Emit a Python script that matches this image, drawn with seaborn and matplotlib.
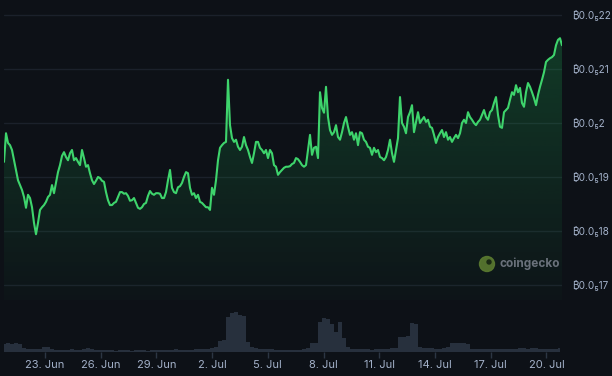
import numpy as np
import pandas as pd
import matplotlib
matplotlib.use("Agg")
import matplotlib.pyplot as plt
import matplotlib.dates as mdates
import seaborn as sns
from matplotlib.patches import Ellipse
from matplotlib.ticker import FixedLocator, FuncFormatter
from matplotlib.colors import to_rgb

# price in units of 1e-7 BTC, one point every ~2.6 hours
price_e7 = [
    1.928, 1.981, 1.963, 1.959, 1.950, 1.931, 1.913, 1.894, 1.885, 1.876,
    1.863, 1.843, 1.867, 1.861, 1.844, 1.815, 1.794, 1.815, 1.839, 1.844,
    1.848, 1.854, 1.863, 1.867, 1.885, 1.870, 1.889, 1.909, 1.922, 1.939,
    1.946, 1.937, 1.931, 1.944, 1.950, 1.931, 1.935, 1.928, 1.922, 1.950,
    1.935, 1.919, 1.922, 1.907, 1.894, 1.887, 1.893, 1.900, 1.898, 1.893,
    1.891, 1.872, 1.857, 1.848, 1.848, 1.852, 1.854, 1.863, 1.872, 1.872,
    1.869, 1.870, 1.865, 1.856, 1.857, 1.861, 1.852, 1.843, 1.841, 1.844,
    1.850, 1.852, 1.865, 1.874, 1.869, 1.867, 1.870, 1.870, 1.869, 1.861,
    1.861, 1.872, 1.894, 1.913, 1.880, 1.872, 1.870, 1.881, 1.883, 1.889,
    1.900, 1.909, 1.907, 1.880, 1.867, 1.870, 1.861, 1.867, 1.854, 1.852,
    1.848, 1.844, 1.844, 1.839, 1.880, 1.867, 1.894, 1.931, 1.954, 1.959,
    1.963, 1.965, 2.080, 1.996, 1.972, 1.965, 1.969, 1.956, 1.950, 1.956,
    1.974, 1.959, 1.950, 1.937, 1.926, 1.944, 1.965, 1.965, 1.954, 1.950,
    1.944, 1.950, 1.935, 1.950, 1.944, 1.922, 1.919, 1.904, 1.909, 1.913,
    1.917, 1.919, 1.919, 1.920, 1.924, 1.926, 1.935, 1.933, 1.928, 1.922,
    1.919, 1.922, 1.950, 1.978, 1.941, 1.954, 1.956, 1.935, 2.057, 2.028,
    2.019, 2.067, 2.011, 1.987, 1.978, 1.983, 1.996, 1.974, 1.969, 1.983,
    2.000, 2.011, 1.993, 1.978, 1.983, 1.969, 1.981, 1.959, 1.983, 1.981,
    1.969, 1.965, 1.956, 1.954, 1.941, 1.954, 1.946, 1.950, 1.937, 1.935,
    1.931, 1.937, 1.950, 1.969, 1.944, 1.928, 1.950, 1.972, 2.048, 2.000,
    1.993, 1.981, 2.011, 2.020, 2.033, 1.983, 2.002, 2.020, 2.000, 2.006,
    2.011, 2.002, 2.006, 1.993, 1.991, 1.978, 1.963, 1.974, 1.981, 1.987,
    1.974, 1.983, 1.969, 1.974, 1.965, 1.972, 1.978, 1.972, 1.981, 2.000,
    2.006, 2.000, 2.020, 2.011, 2.006, 2.000, 1.996, 2.002, 2.006, 2.015,
    2.024, 2.011, 2.006, 2.020, 2.024, 2.037, 2.048, 2.015, 1.993, 1.991,
    2.020, 2.024, 2.028, 2.043, 2.057, 2.052, 2.070, 2.057, 2.065, 2.037,
    2.030, 2.057, 2.074, 2.067, 2.057, 2.046, 2.033, 2.052, 2.067, 2.080,
    2.094, 2.113, 2.117, 2.120, 2.122, 2.126, 2.144, 2.154, 2.157, 2.144,
]

# traded volume (arbitrary units), one value every second price point
volume = [
    0.8, 0.9, 0.8, 0.9, 0.8, 0.4, 0.3, 0.3, 0.3, 0.3,
    0.5, 0.5, 0.3, 0.2, 0.2, 0.2, 0.2, 0.3, 0.2, 0.2,
    0.3, 0.4, 0.3, 0.2, 0.2, 0.2, 0.2, 0.2, 0.1, 0.2,
    0.2, 0.2, 0.1, 0.2, 0.2, 0.2, 0.1, 0.2, 0.2, 0.2,
    0.2, 0.2, 0.2, 0.3, 0.2, 0.2, 0.2, 0.2, 0.3, 0.3,
    0.3, 0.3, 0.4, 0.5, 1.1, 1.2, 3.5, 3.9, 4.0, 3.7,
    3.6, 1.0, 0.5, 0.4, 0.3, 0.3, 0.3, 0.3, 0.2, 0.2,
    0.2, 0.2, 0.2, 0.2, 0.2, 0.3, 0.4, 0.9, 0.9, 3.0,
    3.4, 3.3, 2.8, 2.0, 3.0, 1.4, 0.5, 0.3, 0.3, 0.3,
    0.3, 0.3, 0.2, 0.3, 0.3, 0.3, 0.3, 0.4, 0.4, 1.5,
    1.5, 1.6, 2.9, 2.8, 0.5, 0.4, 0.4, 0.4, 0.3, 0.3,
    0.4, 0.5, 0.9, 0.9, 0.9, 0.9, 0.8, 0.3, 0.3, 0.3,
    0.3, 0.3, 0.3, 0.3, 0.3, 0.3, 0.3, 0.3, 0.3, 0.4,
    0.4, 0.3, 0.4, 0.4, 0.3, 0.3, 0.3, 0.3, 0.3, 0.4,
]

start_time = "2024-06-20 19:00"
end_time = "2024-07-20 20:10"
y_ticks = [1.7, 1.8, 1.9, 2.0, 2.1, 2.2]
x_tick_dates = pd.date_range("2024-06-23", "2024-07-20", freq="3D")

times = pd.date_range(start_time, end_time, periods=len(price_e7))
vol_times = times[::2]
df = pd.DataFrame({"time": times, "price": price_e7})

# colours
bg = "#0d1117"
line_color = "#3ed46c"
grid_color = "#1b212b"
label_color = "#a3b1c9"
vol_color = "#27303d"

sns.set_theme(style="dark", rc={"axes.facecolor": bg, "figure.facecolor": bg})
plt.rcParams["font.family"] = ["Inter", "Noto Sans", "DejaVu Sans"]

fig = plt.figure(figsize=(6.12, 3.76), dpi=100, facecolor=bg)
ax = fig.add_axes([4 / 612, 1 - 300 / 376, 558 / 612, 295 / 376])
axv = fig.add_axes([4 / 612, 1 - 352 / 376, 558 / 612, 52 / 376], sharex=ax)

y_lo, y_hi = 1.6722, 2.2185

# price line
sns.lineplot(data=df, x="time", y="price", ax=ax, color=line_color, linewidth=1.5, zorder=3)

# gradient fill under the line
poly = ax.fill_between(times, price_e7, y_lo, facecolor="none", edgecolor="none")
path = poly.get_paths()[0]
n = 256
grad = np.zeros((n, 1, 4))
grad[:, 0, :3] = to_rgb("#22c55e")
grad[:, 0, 3] = np.linspace(0.26, 0.02, n)
x0, x1 = mdates.date2num(times[0]), mdates.date2num(times[-1])
img = ax.imshow(grad, extent=[x0, x1, y_lo, y_hi], aspect="auto", origin="upper", zorder=2)
img.set_clip_path(path, transform=ax.transData)

ax.set_xlim(times[0], times[-1])
ax.set_ylim(y_lo, y_hi)
ax.set_xlabel("")
ax.set_ylabel("")
ax.yaxis.tick_right()
ax.yaxis.set_major_locator(FixedLocator(y_ticks))
ax.yaxis.set_major_formatter(FuncFormatter(
    lambda v, pos: "\u20bf0.0\u2085" + f"{v:.1f}".replace(".", "").rstrip("0")))
ax.tick_params(axis="y", length=0, pad=7, labelsize=7.2, labelcolor=label_color)
ax.tick_params(axis="x", bottom=False, labelbottom=False)
ax.grid(True, axis="y", color=grid_color, linewidth=1)
ax.grid(False, axis="x")
for s in ax.spines.values():
    s.set_visible(False)

# volume
axv.fill_between(vol_times, volume, 0, step="mid", color=vol_color, linewidth=0)
axv.set_ylim(0, 5.2)
axv.set_facecolor(bg)
axv.set_yticks([])
axv.grid(False)
axv.xaxis.set_major_locator(FixedLocator(mdates.date2num(x_tick_dates)))
axv.set_xticklabels([f"{d.day}. {d:%b}" for d in x_tick_dates])
axv.tick_params(axis="x", bottom=True, length=4, width=1, color="#2c3644",
                pad=2, labelsize=8, labelcolor=label_color, direction="out")
for s in axv.spines.values():
    s.set_visible(False)

# watermark
fig.add_artist(Ellipse((487 / 612, 1 - 264 / 376), 15 / 612, 15 / 376,
                       transform=fig.transFigure, color="#5a7a30", alpha=0.9))
fig.add_artist(Ellipse((489 / 612, 1 - 262 / 376), 4 / 612, 4 / 376,
                       transform=fig.transFigure, color="#1a2a14"))
fig.text(499 / 612, 1 - 264 / 376, "coingecko", color="#6a717b", fontsize=8.5,
         fontweight="bold", va="center", ha="left")

fig.savefig("out.png", dpi=100, facecolor=bg)
